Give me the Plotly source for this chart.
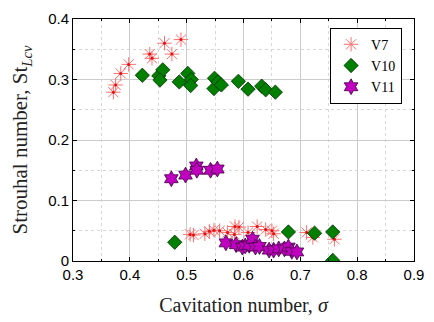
import plotly.graph_objects as go

# V7 (red asterisks)
v7_sigma = [0.371, 0.375, 0.384, 0.398, 0.435, 0.439, 0.461, 0.474, 0.490,
            0.506, 0.512, 0.532, 0.540, 0.548, 0.558, 0.572, 0.584, 0.585, 0.592,
            0.608, 0.624, 0.639, 0.650, 0.653, 0.711, 0.722, 0.760]
v7_st = [0.279, 0.291, 0.310, 0.325, 0.342, 0.335, 0.360, 0.342, 0.366,
         0.044, 0.043, 0.045, 0.049, 0.051, 0.050, 0.047, 0.044, 0.057, 0.056,
         0.047, 0.057, 0.052, 0.050, 0.045, 0.047, 0.039, 0.036]

# V10 (green diamonds)
v10_sigma = [0.422, 0.451, 0.458, 0.453, 0.487, 0.502, 0.508, 0.507, 0.549, 0.548,
             0.555, 0.561, 0.591, 0.608, 0.632, 0.639, 0.656,
             0.479, 0.679, 0.725, 0.757, 0.757]
v10_st = [0.307, 0.306, 0.316, 0.299, 0.296, 0.310, 0.300, 0.290, 0.302, 0.285,
          0.296, 0.291, 0.297, 0.284, 0.289, 0.283, 0.279,
          0.031, 0.048, 0.046, 0.048, 0.001]

# V11 (magenta hexagrams)
v11_sigma = [0.473, 0.498, 0.517, 0.518, 0.542, 0.554,
             0.569, 0.587, 0.598, 0.603, 0.610, 0.616, 0.621, 0.628, 0.645, 0.653,
             0.662, 0.672, 0.679, 0.685, 0.694]
v11_st = [0.136, 0.142, 0.157, 0.150, 0.150, 0.152,
          0.030, 0.027, 0.023, 0.025, 0.026, 0.036, 0.023, 0.024, 0.018, 0.018,
          0.020, 0.020, 0.023, 0.016, 0.015]

x_ticks = [0.3, 0.4, 0.5, 0.6, 0.7, 0.8, 0.9]
y_ticks = [0, 0.1, 0.2, 0.3, 0.4]

serif = "Liberation Serif, DejaVu Serif, serif"
sans = "Liberation Sans, Arial, sans-serif"

fig = go.Figure()
fig.add_trace(go.Scatter(
    x=v7_sigma, y=v7_st, mode="markers", name="V7",
    marker=dict(symbol="asterisk-open", size=12, color="#ff7070",
                line=dict(color="#ff7070", width=1))))
fig.add_trace(go.Scatter(
    x=v7_sigma, y=v7_st, mode="markers", showlegend=False, hoverinfo="skip",
    marker=dict(symbol="circle", size=3, color="#e01010", line=dict(width=0))))
fig.add_trace(go.Scatter(
    x=v10_sigma, y=v10_st, mode="markers", name="V10",
    marker=dict(symbol="diamond", size=11, color="#007f00",
                line=dict(color="#003000", width=0.8))))
fig.add_trace(go.Scatter(
    x=v11_sigma, y=v11_st, mode="markers", name="V11",
    marker=dict(symbol="hexagram", size=12, color="#bf00bf",
                line=dict(color="#400040", width=0.8))))

axis_common = dict(
    showline=True, linecolor="black", linewidth=1, mirror="allticks",
    ticks="inside", ticklen=4, tickcolor="black",
    showgrid=True, gridcolor="#cccccc", gridwidth=1,
    zeroline=False,
    tickfont=dict(family=sans, size=15, color="black"),
    minor=dict(ticks="inside", ticklen=2, tickcolor="black",
               showgrid=True, gridcolor="#d8d8d8", griddash="dot"),
)

fig.update_layout(
    width=434, height=322,
    margin=dict(l=73, r=15, t=10, b=59),
    paper_bgcolor="white", plot_bgcolor="white",
    xaxis=dict(range=[0.3, 0.9], tickvals=x_ticks,
               ticktext=[f"{v:.1f}" for v in x_ticks],
               title=dict(text="Cavitation number, <i>σ</i>",
                          font=dict(family=serif, size=20, color="#222"),
                          standoff=15),
               **axis_common),
    yaxis=dict(range=[0, 0.4], tickvals=y_ticks,
               ticktext=["0", "0.1", "0.2", "0.3", "0.4"],
               title=dict(text="Strouhal number, St<sub><i>Lcv</i></sub>",
                          font=dict(family=serif, size=21, color="#222"),
                          standoff=14),
               **axis_common),
    legend=dict(x=0.965, y=0.964, xanchor="right", yanchor="top",
                bgcolor="white", bordercolor="black", borderwidth=1,
                font=dict(family=serif, size=14, color="black"),
                itemwidth=30, tracegroupgap=0),
    showlegend=True,
)
fig.update_xaxes(minor_dtick=0.05)
fig.update_yaxes(minor_dtick=0.05)

fig.write_html("out.html", config={"displayModeBar": False},
               post_script="document.body.style.margin='0';")
